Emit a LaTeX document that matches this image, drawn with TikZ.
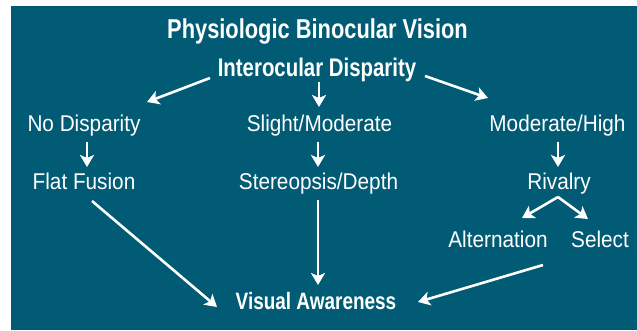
\documentclass[tikz,border=0pt]{standalone}
\usepackage{fontspec}
\setmainfont{Liberation Sans}[FakeStretch=0.91]
\newfontfamily\headfont{Liberation Sans}[FakeStretch=0.8]
\usetikzlibrary{arrows.meta}
\definecolor{panel}{RGB}{2,91,117}
\begin{document}
\begin{tikzpicture}[x=1pt,y=-1pt,
  label/.style={text=white, inner sep=0pt, anchor=base,
    font=\fontsize{22.8}{26}\selectfont},
  heading/.style={text=white, inner sep=0pt, anchor=base},
  arr/.style={white, line width=2.6pt,
    -{Stealth[length=12pt,width=14pt,inset=3pt]}}]
\useasboundingbox (0,0) rectangle (637,330);
\fill[white] (0,0) rectangle (637,330);
\fill[panel] (11,6) rectangle (637,330);

% headings
\node[heading, font=\headfont\bfseries\fontsize{27.3}{31}\selectfont] (title) at (317.5,38) {Physiologic Binocular Vision};
\node[heading, font=\headfont\bfseries\fontsize{25.5}{29}\selectfont] (io) at (317,76) {Interocular Disparity};

% first level
\node[label] (nd) at (84,131) {No Disparity};
\node[label] (sm) at (319.5,131) {Slight/Moderate};
\node[label] (mh) at (557.5,131) {Moderate/High};

% second level
\node[label] (ff) at (84,189) {Flat Fusion};
\node[label] (sd) at (318.5,189) {Stereopsis/Depth};
\node[label] (rv) at (559,189) {Rivalry};

% rivalry outcomes
\node[label] (alt) at (498,247) {Alternation};
\node[label] (sel) at (600,247) {Select};

% result
\node[heading, font=\headfont\bfseries\fontsize{23.7}{27}\selectfont] (va) at (316,309) {Visual Awareness};

% connectors
\draw[arr] ([shift={(-107,2)}]io.base) -- ([shift={(63,-29)}]nd.base);
\draw[arr] ([shift={(2,6)}]io.base) -- ([shift={(-0.5,-24)}]sm.base);
\draw[arr] ([shift={(108,0)}]io.base) -- ([shift={(-69.5,-33)}]mh.base);

\draw[arr] ([shift={(3,11)}]nd.base) -- ([shift={(3,-22)}]ff.base);
\draw[arr] ([shift={(-1.5,11)}]sm.base) -- ([shift={(-0.5,-22)}]sd.base);
\draw[arr] ([shift={(0.5,11)}]mh.base) -- ([shift={(-1,-22)}]rv.base);

\draw[arr] ([shift={(-1,8)}]rv.base) -- ([shift={(24,-29)}]alt.base);
\draw[arr] ([shift={(-1,8)}]rv.base) -- ([shift={(-12,-28)}]sel.base);

\draw[arr] ([shift={(8,12)}]ff.base) -- ([shift={(-99,-2)}]va.base);
\draw[arr] ([shift={(-0.5,11)}]sd.base) -- ([shift={(2,-24)}]va.base);
\draw[arr] ([shift={(-57,18)}]sel.base) -- ([shift={(102,-7)}]va.base);
\end{tikzpicture}
\end{document}
